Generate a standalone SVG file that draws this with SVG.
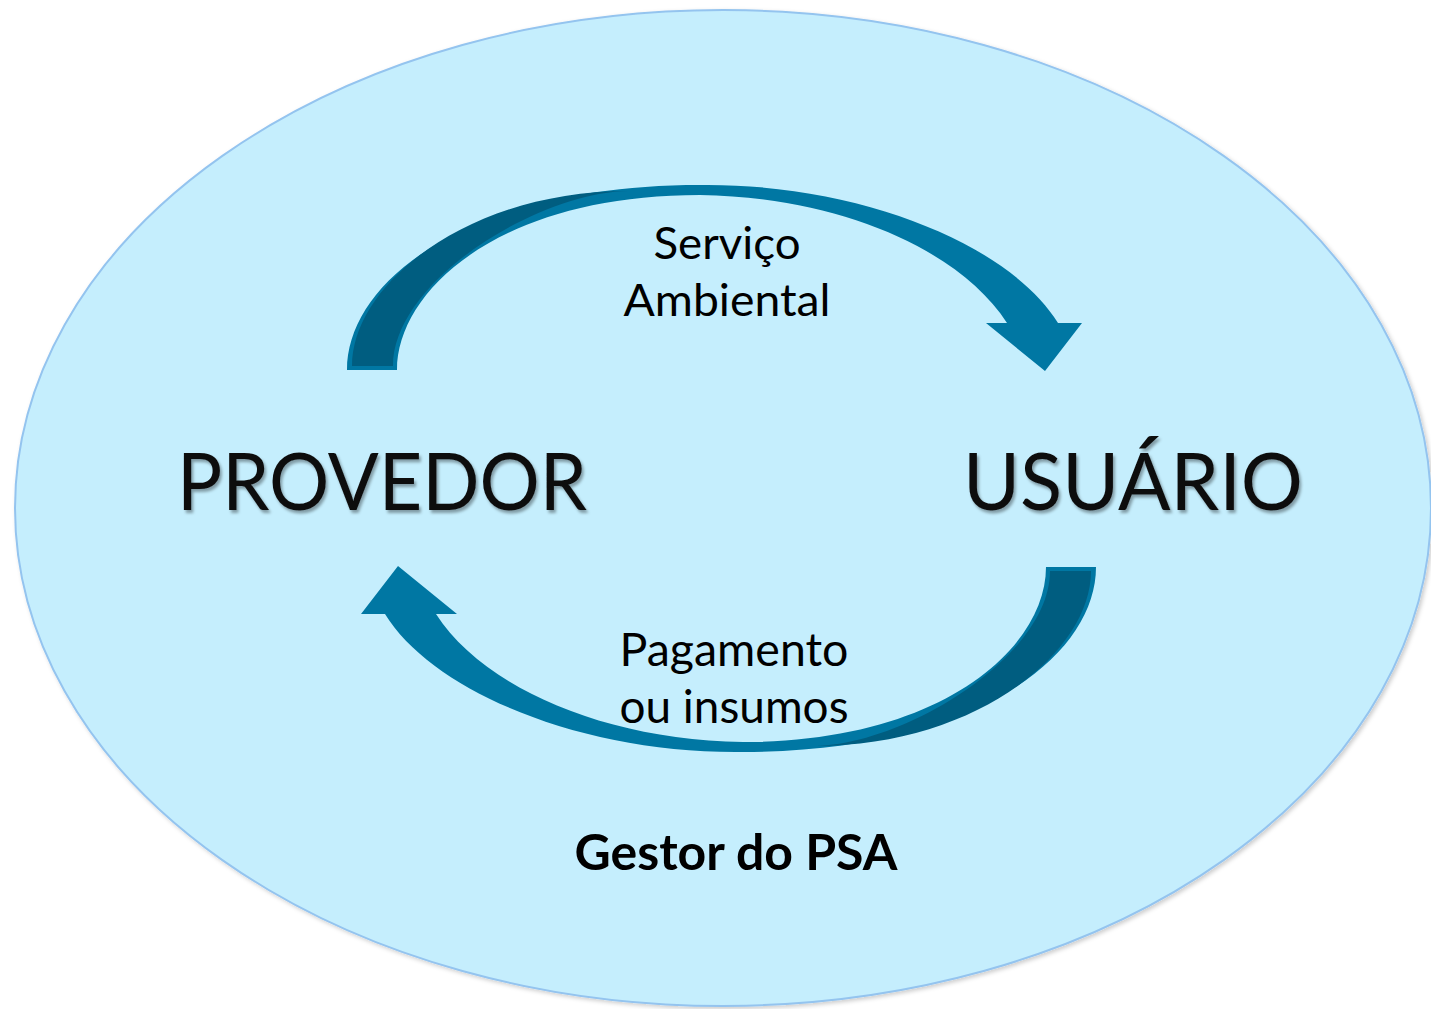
<svg xmlns="http://www.w3.org/2000/svg" width="1431" height="1009" viewBox="0 0 1431 1009">
  <defs>
    <style>
      .lbl { font-family: Lato, "Open Sans", "Liberation Sans", sans-serif; fill: #000; text-anchor: middle; }
      .big { font-family: Lato, "Open Sans", "Liberation Sans", sans-serif; fill: #111; text-anchor: middle; filter: url(#txtShadow); }
      .arrowBody { fill: #0077a3; }
      .arrowBack { fill: #005d80; }
    </style>
    <filter id="txtShadow" x="-10%" y="-20%" width="120%" height="150%">
      <feDropShadow dx="2" dy="3" stdDeviation="1.6" flood-color="#000" flood-opacity="0.35"/>
    </filter>
    <filter id="ellShadow" x="-5%" y="-5%" width="110%" height="110%">
      <feDropShadow dx="2" dy="2" stdDeviation="2" flood-color="#000" flood-opacity="0.2"/>
    </filter>
    <g id="curvedArrow">
      <path class="arrowBody" d="M347,370 C347,280 470,185 700,185 C860,183 1010,245 1058,323 L1082,323 L1045,371 L986,323 L1007,323 C960,250 840,197 700,195 C500,195 397,290 397,370 Z"/>
      <path class="arrowBack" d="M352,366 C352,284 468,191 628,191 C540,192 393,280 393,366 Z"/>
    </g>
  </defs>

  <g id="gestor">
    <ellipse cx="723" cy="508" rx="708" ry="498" fill="#c5eefd" stroke="#94c4ef" stroke-width="2" filter="url(#ellShadow)"/>
    <text class="lbl" x="736" y="870" font-size="50" font-weight="bold" textLength="323" lengthAdjust="spacingAndGlyphs">Gestor do PSA</text>
  </g>

  <g id="connectors">
    <g id="servico-ambiental">
      <use href="#curvedArrow"/>
      <text class="lbl" x="727" y="259" font-size="45" textLength="147" lengthAdjust="spacingAndGlyphs">Serviço</text>
      <text class="lbl" x="727" y="316" font-size="45" textLength="207" lengthAdjust="spacingAndGlyphs">Ambiental</text>
    </g>
    <g id="pagamento">
      <use href="#curvedArrow" transform="rotate(180 721.5 468.5)"/>
      <text class="lbl" x="734" y="666" font-size="46" textLength="229" lengthAdjust="spacingAndGlyphs">Pagamento</text>
      <text class="lbl" x="734" y="723" font-size="46" textLength="229" lengthAdjust="spacingAndGlyphs">ou insumos</text>
    </g>
  </g>

  <g id="provedor">
    <text class="big" x="382" y="510" font-size="79" textLength="410" lengthAdjust="spacingAndGlyphs">PROVEDOR</text>
  </g>
  <g id="usuario">
    <text class="big" x="1133" y="510" font-size="79" textLength="340" lengthAdjust="spacingAndGlyphs">USUÁRIO</text>
  </g>
</svg>
